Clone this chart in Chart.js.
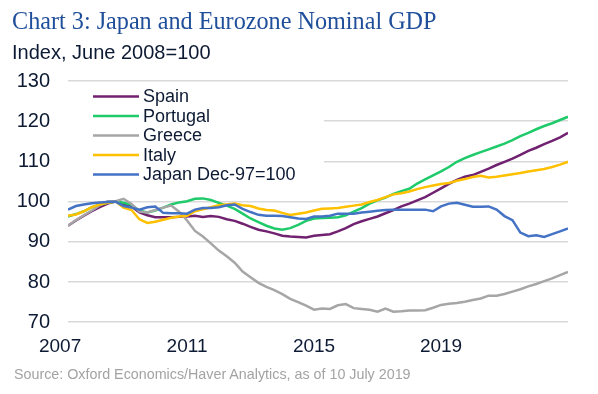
<!DOCTYPE html>
<html>
<head>
<meta charset="utf-8">
<script src="https://cdn.jsdelivr.net/npm/chart.js@4/dist/chart.umd.min.js"></script>
<style>
  body { margin: 0; background: #fff; }
  #wrap { position: relative; width: 598px; height: 394px; overflow: hidden; }
  #chart { position: absolute; left: 0; top: 0; }
  .title { position: absolute; left: 12px; top: 6px; font: 24.2px "Liberation Serif", serif; color: #1f4e9a; white-space: nowrap; line-height: 30px; }
  .subtitle { position: absolute; left: 12px; top: 39px; font: 20px "Liberation Sans", Arial, sans-serif; color: #0d1a33; white-space: nowrap; line-height: 26px; }
  .source { position: absolute; left: 14px; top: 365px; font: 14.3px "Liberation Sans", Arial, sans-serif; color: #a3a3a3; white-space: nowrap; line-height: 18px; }
</style>
</head>
<body>
<div id="wrap">
  <canvas id="chart" width="598" height="394"></canvas>
  <div class="title">Chart 3: Japan and Eurozone Nominal GDP</div>
  <div class="subtitle">Index, June 2008=100</div>
  <div class="source">Source: Oxford Economics/Haver Analytics, as of 10 July 2019</div>
</div>
<script>
// quarterly, 2007Q2 .. 2023Q1
const quarters = []
for (let y = 2007; y <= 2023; y++) {
  for (let q = 1; q <= 4; q++) {
    if ((y === 2007 && q === 1) || (y === 2023 && q > 1)) continue
    quarters.push(y + 'Q' + q)
  }
}

const tickYears = [2007, 2011, 2015, 2019]
const yTicks = [70, 80, 90, 100, 110, 120, 130]

const spain = [
  94.0, 95.3, 96.5, 97.6, 98.6, 99.5, 100.0, 99.3, 98.8, 97.3, 96.6, 96.1, 96.1, 96.1, 96.2, 96.3,
  96.5, 96.2, 96.4, 96.2, 95.6, 95.2, 94.5, 93.7, 93.0, 92.6, 92.1, 91.5, 91.3, 91.2, 91.1, 91.5,
  91.7, 91.9, 92.6, 93.4, 94.4, 95.1, 95.7, 96.3, 97.1, 97.9, 98.8, 99.5, 100.3, 101.1, 102.2, 103.3,
  104.4, 105.4, 106.2, 106.6, 107.4, 108.2, 109.1, 109.9, 110.7, 111.6, 112.6, 113.4, 114.3, 115.1, 116.0, 117.1
]
const portugal = [
  96.3, 96.9, 97.6, 98.6, 99.2, 99.7, 100.0, 99.7, 99.2, 97.7, 97.3, 97.8, 98.5, 99.3, 99.8, 100.1,
  100.7, 100.8, 100.4, 99.7, 99.0, 98.2, 97.0, 95.8, 94.9, 94.0, 93.3, 93.0, 93.4, 94.2, 95.2, 95.8,
  95.9, 96.0, 96.1, 96.6, 97.5, 98.4, 99.5, 100.3, 101.0, 101.9, 102.6, 103.2, 104.5, 105.5, 106.5, 107.5,
  108.6, 109.9, 110.8, 111.6, 112.3, 113.0, 113.7, 114.4, 115.3, 116.3, 117.1, 118.0, 118.8, 119.5, 120.3, 121.1
]
const greece = [
  94.0, 95.4, 96.6, 97.8, 99.1, 100.1, 100.1, 100.7, 99.4, 97.5, 97.3, 97.9, 98.5, 99.0, 97.5, 95.3,
  92.7, 91.3, 89.6, 87.8, 86.4, 84.8, 82.6, 81.2, 79.8, 78.8, 78.0, 77.0, 75.8, 75.0, 74.1, 73.1,
  73.4, 73.3, 74.2, 74.5, 73.5, 73.3, 73.1, 72.6, 73.4, 72.6, 72.7, 72.9, 72.9, 73.0, 73.6, 74.3,
  74.6, 74.8, 75.1, 75.5, 75.9, 76.6, 76.6, 77.0, 77.6, 78.2, 78.9, 79.5, 80.2, 80.9, 81.7, 82.5
]
const italy = [
  96.5, 96.8, 97.6, 98.6, 99.3, 99.7, 100.0, 98.5, 97.9, 95.6, 94.7, 95.0, 95.5, 96.0, 96.3, 96.5,
  97.6, 98.1, 98.6, 99.1, 99.3, 99.5, 99.1, 98.9, 98.3, 97.9, 97.8, 97.2, 96.7, 97.0, 97.3, 97.8,
  98.2, 98.3, 98.4, 98.7, 99.0, 99.3, 99.9, 100.4, 101.1, 101.8, 102.1, 102.5, 103.1, 103.6, 104.0, 104.4,
  104.6, 105.2, 105.6, 106.1, 106.4, 106.0, 106.2, 106.5, 106.8, 107.1, 107.5, 107.8, 108.1, 108.6, 109.2, 109.9
]
const japan = [
  98.0, 98.9, 99.3, 99.6, 99.8, 99.9, 100.0, 98.9, 98.5, 98.0, 98.6, 98.8, 97.2, 97.1, 97.1, 97.0,
  98.0, 98.4, 98.4, 98.6, 99.1, 99.3, 98.2, 97.4, 96.7, 96.5, 96.5, 96.4, 96.1, 95.8, 95.7, 96.3,
  96.3, 96.5, 97.0, 97.0, 97.0, 97.3, 97.5, 97.7, 97.9, 98.0, 98.0, 98.0, 98.0, 98.0, 97.6, 98.8,
  99.5, 99.7, 99.2, 98.7, 98.7, 98.8, 98.0, 96.4, 95.4, 92.3, 91.4, 91.6, 91.2, 91.9, 92.6, 93.3
]

const seriesNames = ['Spain', 'Portugal', 'Greece', 'Italy', 'Japan Dec-97=100']
const seriesColors = ['#70216f', '#1fca6a', '#a6a6a6', '#ffc000', '#4472c4']
const seriesData = [spain, portugal, greece, italy, japan]

const textColor = '#0d1a33'

function quarterToYear(label) {
  const [y, q] = label.split('Q')
  return Number(y) + (Number(q) - 1) / 4
}

const xValues = quarters.map(quarterToYear)

const datasets = seriesNames.map((name, i) => ({
  label: name,
  data: seriesData[i].map((v, j) => ({ x: xValues[j], y: v })),
  borderColor: seriesColors[i],
  borderWidth: 2.5,
  pointRadius: 0,
  tension: 0,
  fill: false,
  order: seriesNames.length - 1 - i
}))

// legend drawn inside the plot, on a white box that hides the grid behind it
const insideLegend = {
  id: 'insideLegend',
  beforeDatasetsDraw(chart) {
    const { ctx, chartArea } = chart
    const left = chartArea.left
    const top = chartArea.top
    ctx.save()
    ctx.fillStyle = '#fff'
    ctx.fillRect(left, top + 4, 256, 110)
    ctx.font = '18px "Liberation Sans", Arial, sans-serif'
    ctx.textBaseline = 'middle'
    ctx.textAlign = 'left'
    seriesNames.forEach((name, i) => {
      const y = top + 15.5 + i * 19.5
      ctx.strokeStyle = seriesColors[i]
      ctx.lineWidth = 2.5
      ctx.beginPath()
      ctx.moveTo(left + 25, y)
      ctx.lineTo(left + 71, y)
      ctx.stroke()
      ctx.fillStyle = textColor
      ctx.fillText(name, left + 75, y + 1)
    })
    ctx.restore()
  }
}

const chartConfig = {
  type: 'line',
  data: { datasets: datasets },
  options: {
    responsive: false,
    animation: false,
    layout: { padding: { left: 0, right: 30, top: 81, bottom: 31 } },
    plugins: { legend: { display: false }, tooltip: { enabled: false } },
    scales: {
      x: {
        type: 'linear',
        min: xValues[0],
        max: xValues[xValues.length - 1],
        afterBuildTicks: (scale) => { scale.ticks = tickYears.map(v => ({ value: v })) },
        grid: { display: false },
        border: { display: false },
        ticks: {
          autoSkip: false,
          maxRotation: 0,
          padding: 5,
          color: textColor,
          font: { family: '"Liberation Sans", Arial, sans-serif', size: 19 },
          callback: (v) => String(v)
        }
      },
      y: {
        min: 70,
        max: 130,
        afterBuildTicks: (scale) => { scale.ticks = yTicks.map(v => ({ value: v })) },
        afterFit: (scale) => { scale.width = 68 },
        grid: { color: '#d9d9d9', lineWidth: 1.5, drawTicks: false },
        border: { display: false },
        ticks: {
          padding: 18,
          color: textColor,
          font: { family: '"Liberation Sans", Arial, sans-serif', size: 20 }
        }
      }
    }
  },
  plugins: [insideLegend]
}

const chart = new Chart(document.getElementById('chart').getContext('2d'), chartConfig)
</script>
</body>
</html>
